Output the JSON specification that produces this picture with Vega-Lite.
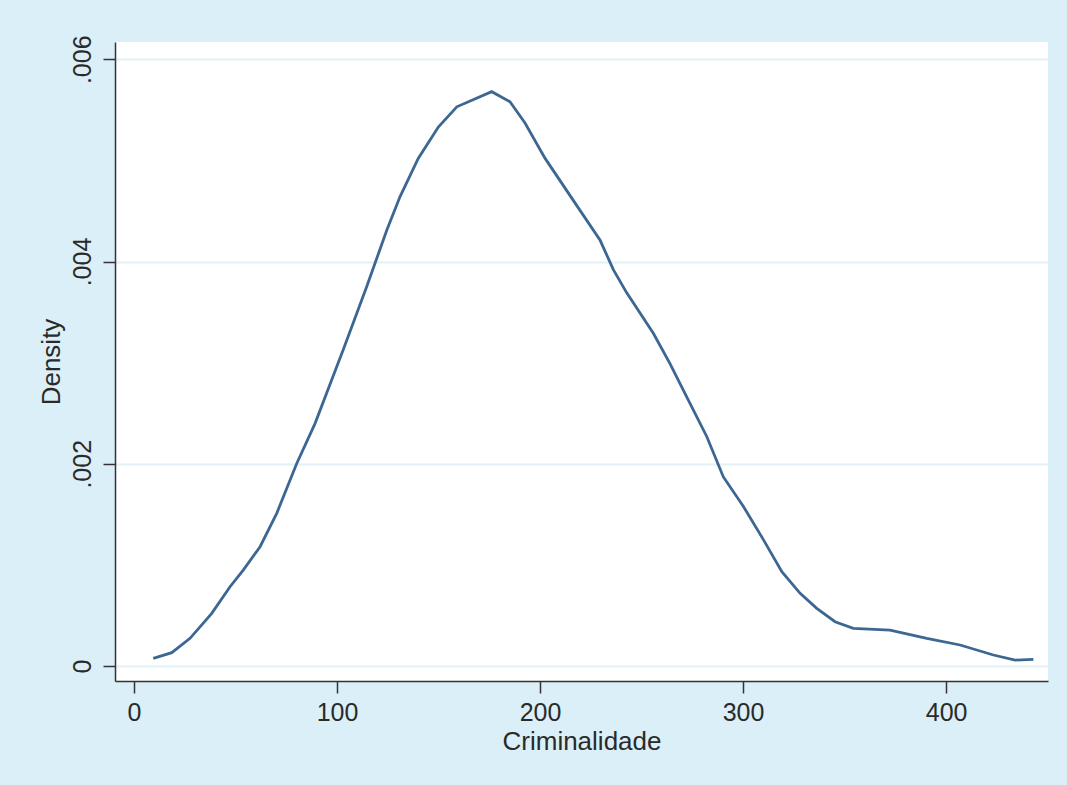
{
  "$schema": "https://vega.github.io/schema/vega-lite/v6.json",
  "width": 933,
  "height": 639,
  "autosize": {"type": "none"},
  "padding": {"left": 115, "top": 42, "right": 19, "bottom": 104},
  "background": "#daeff7",
  "config": {
    "view": {"fill": "#ffffff", "stroke": null},
    "font": "Liberation Sans"
  },
  "data": {
    "values": [
      {"x": 9.5, "density": 0.000076},
      {"x": 18.6, "density": 0.000132},
      {"x": 27.6, "density": 0.000274},
      {"x": 38.3, "density": 0.000521},
      {"x": 47.3, "density": 0.000784},
      {"x": 53.8, "density": 0.000949},
      {"x": 62.1, "density": 0.00118},
      {"x": 70.3, "density": 0.00151},
      {"x": 80.1, "density": 0.00200},
      {"x": 89.2, "density": 0.00240},
      {"x": 97.4, "density": 0.00283},
      {"x": 103.1, "density": 0.00313},
      {"x": 114.6, "density": 0.00375},
      {"x": 124.5, "density": 0.00431},
      {"x": 131.0, "density": 0.00464},
      {"x": 140.0, "density": 0.00502},
      {"x": 149.9, "density": 0.00533},
      {"x": 159.0, "density": 0.00553},
      {"x": 176.2, "density": 0.00568},
      {"x": 185.2, "density": 0.00558},
      {"x": 192.6, "density": 0.00537},
      {"x": 202.5, "density": 0.00502},
      {"x": 217.2, "density": 0.00458},
      {"x": 229.6, "density": 0.00421},
      {"x": 236.1, "density": 0.00392},
      {"x": 242.7, "density": 0.00369},
      {"x": 255.8, "density": 0.00329},
      {"x": 264.0, "density": 0.00299},
      {"x": 272.3, "density": 0.00266},
      {"x": 282.1, "density": 0.00227},
      {"x": 290.3, "density": 0.00187},
      {"x": 300.1, "density": 0.00158},
      {"x": 310.0, "density": 0.00125},
      {"x": 319.1, "density": 0.000933},
      {"x": 328.1, "density": 0.000719},
      {"x": 336.3, "density": 0.000571},
      {"x": 345.3, "density": 0.000438},
      {"x": 354.3, "density": 0.000373},
      {"x": 372.4, "density": 0.000356},
      {"x": 390.5, "density": 0.000274},
      {"x": 406.9, "density": 0.000208},
      {"x": 423.3, "density": 0.000109},
      {"x": 434.0, "density": 0.000059},
      {"x": 443.0, "density": 0.000066}
    ]
  },
  "mark": {"type": "line", "color": "#3d6793", "strokeWidth": 2.8},
  "encoding": {
    "x": {
      "field": "x",
      "type": "quantitative",
      "scale": {"domain": [-9.36, 450.2], "nice": false, "zero": false},
      "axis": {
        "title": "Criminalidade",
        "values": [0, 100, 200, 300, 400],
        "format": "d",
        "grid": false,
        "domainColor": "#333333",
        "domainWidth": 1.5,
        "tickColor": "#333333",
        "tickWidth": 1.5,
        "tickSize": 12,
        "labelFontSize": 25,
        "labelColor": "#2a2a2a",
        "labelPadding": 7,
        "labelFlush": false,
        "titleFontSize": 26,
        "titleFontWeight": "normal",
        "titleColor": "#2a2a2a",
        "titlePadding": 3
      }
    },
    "y": {
      "field": "density",
      "type": "quantitative",
      "scale": {"domain": [-0.000148, 0.006171], "nice": false, "zero": false},
      "axis": {
        "title": "Density",
        "values": [0, 0.002, 0.004, 0.006],
        "labelExpr": "datum.value == 0 ? '0' : replace(format(datum.value, '.3f'), '0.', '.')",
        "grid": true,
        "gridColor": "#e2f1f5",
        "gridWidth": 2,
        "domainColor": "#333333",
        "domainWidth": 1.5,
        "tickColor": "#333333",
        "tickWidth": 1.5,
        "tickSize": 12,
        "labelAngle": -90,
        "labelAlign": "center",
        "labelBaseline": "bottom",
        "labelFontSize": 25,
        "labelColor": "#2a2a2a",
        "labelPadding": 8,
        "labelFlush": false,
        "titleFontSize": 26,
        "titleFontWeight": "normal",
        "titleColor": "#2a2a2a",
        "titlePadding": 6
      }
    }
  }
}
